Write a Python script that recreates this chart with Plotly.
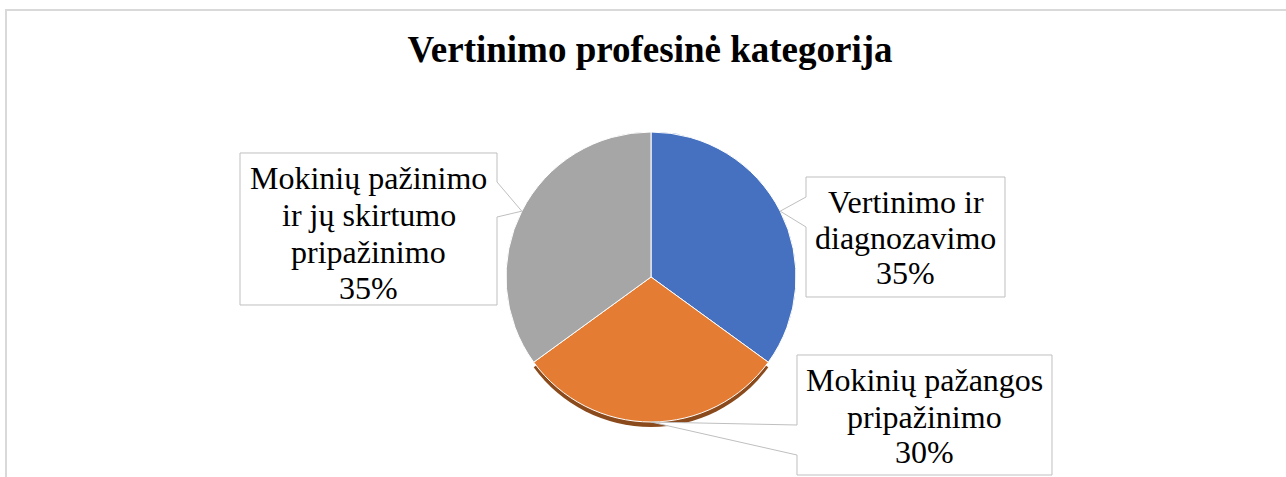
import math
import plotly.graph_objects as go

# Duomenys
labels = ["Vertinimo ir diagnozavimo", "Mokinių pažangos pripažinimo",
          "Mokinių pažinimo ir jų skirtumo pripažinimo"]
values = [35, 30, 35]
label_lines = [
    ["Vertinimo ir", "diagnozavimo"],
    ["Mokinių pažangos", "pripažinimo"],
    ["Mokinių pažinimo", "ir jų skirtumo", "pripažinimo"],
]
colors = ["#4571C0", "#E47C33", "#A6A6A6"]
title = "Vertinimo profesinė kategorija"

W, H = 1286, 477
CX, CY, R = 651, 277, 145
FONT = "Liberation Serif, Times New Roman, serif"


def px(x):
    return x / W


def py(y):
    return 1 - y / H


# Etikečių dėžučių vieta (kairė, viršus, dešinė, apačia, pusė, rodyklės y1, y2, eilučių centrai)
boxes = [
    dict(x0=806, y0=177, x1=1005, y1=297, side="left", wa=197, wb=227, rows=[202, 238, 273]),
    dict(x0=797, y0=355, x1=1052, y1=475, side="left", wa=425, wb=455, rows=[380, 417, 452]),
    dict(x0=240, y0=153, x1=497, y1=305, side="right", wa=182, wb=217, rows=[178, 215, 252, 288]),
]

fig = go.Figure()

# 3D šešėlis po oranžine dalimi
fig.add_trace(go.Pie(
    values=values,
    sort=False,
    direction="clockwise",
    rotation=0,
    marker=dict(colors=["rgba(0,0,0,0)", "#8A4A1C", "rgba(0,0,0,0)"]),
    textinfo="none",
    hoverinfo="skip",
    showlegend=False,
    domain=dict(x=[px(CX - R), px(CX + R)], y=[py(CY + 5 + R), py(CY + 5 - R)]),
))

fig.add_trace(go.Pie(
    labels=labels,
    values=values,
    sort=False,
    direction="clockwise",
    rotation=0,
    marker=dict(colors=colors, line=dict(color="white", width=1)),
    textinfo="none",
    hovertemplate="%{label}: %{percent}<extra></extra>",
    showlegend=False,
    domain=dict(x=[px(CX - R), px(CX + R)], y=[py(CY + R), py(CY - R)]),
))

shapes = []
annotations = []
total = sum(values)
start = 0.0
for i, v in enumerate(values):
    frac = v / total
    mid = (start + frac / 2) * 2 * math.pi
    start += frac
    tx = CX + R * math.sin(mid)
    ty = CY - R * math.cos(mid)
    b = boxes[i]
    if b["side"] == "left":
        pts = [(b["x0"], b["y0"]), (b["x1"], b["y0"]), (b["x1"], b["y1"]), (b["x0"], b["y1"]),
               (b["x0"], b["wb"]), (tx, ty), (b["x0"], b["wa"])]
    else:
        pts = [(b["x0"], b["y0"]), (b["x1"], b["y0"]), (b["x1"], b["wa"]), (tx, ty),
               (b["x1"], b["wb"]), (b["x1"], b["y1"]), (b["x0"], b["y1"])]
    path = "M " + " L ".join(f"{px(x):.5f},{py(y):.5f}" for x, y in pts) + " Z"
    shapes.append(dict(type="path", path=path, xref="paper", yref="paper",
                       fillcolor="white", line=dict(color="#BFBFBF", width=1)))
    lines = label_lines[i] + [f"{frac * 100:.0f}%"]
    xc = (b["x0"] + b["x1"]) / 2
    for txt, yc in zip(lines, b["rows"]):
        annotations.append(dict(text=txt, x=px(xc), y=py(yc), xref="paper", yref="paper",
                                xanchor="center", yanchor="middle", showarrow=False,
                                font=dict(family=FONT, size=32, color="black")))

# Rėmelis aplink diagramą
shapes.append(dict(type="rect", xref="paper", yref="paper",
                   x0=px(6), y0=py(10), x1=px(W + 20), y1=py(H + 20),
                   line=dict(color="#D9D9D9", width=2), fillcolor="rgba(0,0,0,0)", layer="below"))

fig.update_layout(
    width=W,
    height=H,
    margin=dict(l=0, r=0, t=0, b=0),
    paper_bgcolor="white",
    plot_bgcolor="white",
    title=dict(text=f"<b>{title}</b>", x=px(650), y=py(49), xanchor="center", yanchor="middle",
               font=dict(family=FONT, size=37, color="black")),
    shapes=shapes,
    annotations=annotations,
)

fig.write_html("out.html", config={"displayModeBar": False},
               post_script="document.body.style.margin='0px';")
